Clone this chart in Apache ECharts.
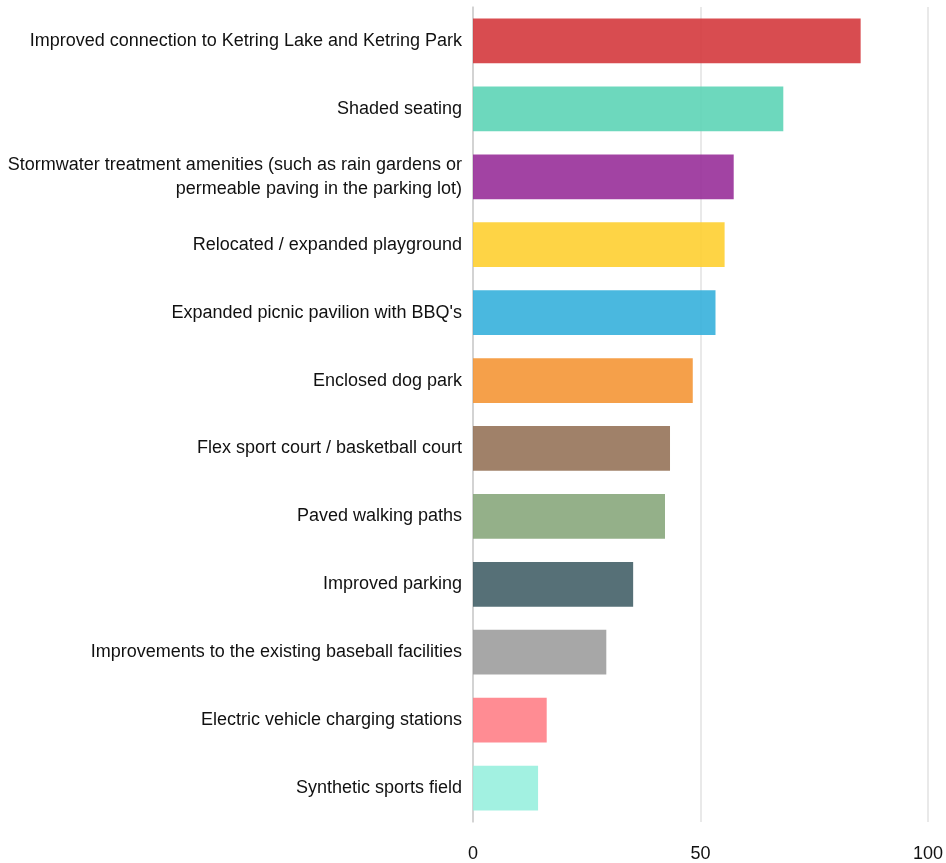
<!DOCTYPE html>
<html><head><meta charset="utf-8">
<script src="https://cdn.jsdelivr.net/npm/echarts@6/dist/echarts.min.js"></script>
<style>html,body{margin:0;padding:0;background:#fff}#c{width:946px;height:863px}</style>
</head><body><div id="c"></div>
<script>
var categories = [
  "Improved connection to Ketring Lake and Ketring Park",
  "Shaded seating",
  "Stormwater treatment amenities (such as rain gardens or\npermeable paving in the parking lot)",
  "Relocated / expanded playground",
  "Expanded picnic pavilion with BBQ's",
  "Enclosed dog park",
  "Flex sport court / basketball court",
  "Paved walking paths",
  "Improved parking",
  "Improvements to the existing baseball facilities",
  "Electric vehicle charging stations",
  "Synthetic sports field"
];
var values = [85.2, 68.2, 57.3, 55.3, 53.3, 48.3, 43.3, 42.2, 35.2, 29.3, 16.2, 14.3];
var colors = ["#D4383D", "#5DD4B6", "#982F99", "#FECF31", "#36B0DC", "#F49636", "#967359", "#88A77C", "#446168", "#9D9D9D", "#FF8087", "#98F0DE"];
var xTicks = [0, 50, 100];

var chart = echarts.init(document.getElementById('c'), null, {renderer: 'canvas'});
var fontFam = '"Liberation Sans Narrow", "Arial Narrow", "Liberation Sans", Arial, sans-serif';
chart.setOption({
  animation: false,
  grid: {left: 473, right: 13, top: 7, bottom: 41, containLabel: false},
  xAxis: {
    type: 'value', min: 0, max: 100, interval: 50,
    axisLine: {show: false}, axisTick: {show: false},
    splitLine: {show: true, lineStyle: {color: '#e2e2e2', width: 1.5}},
    axisLabel: {color: '#111', fontSize: 18, fontFamily: fontFam, margin: 23,
      formatter: function (v) { return xTicks.indexOf(v) >= 0 ? String(v) : ''; }}
  },
  yAxis: {
    type: 'category', inverse: true, data: categories,
    axisLine: {show: true, lineStyle: {color: '#cccccc', width: 1.5}},
    axisTick: {show: false},
    axisLabel: {color: '#111', fontSize: 18, fontFamily: fontFam, margin: 11, align: 'right', lineHeight: 24, padding: [5, 0, 0, 0]}
  },
  series: [{
    type: 'bar',
    barCategoryGap: '34%',
    data: values.map(function (v, i) { return {value: v, itemStyle: {color: colors[i], opacity: 0.9}}; })
  }]
});
</script></body></html>
